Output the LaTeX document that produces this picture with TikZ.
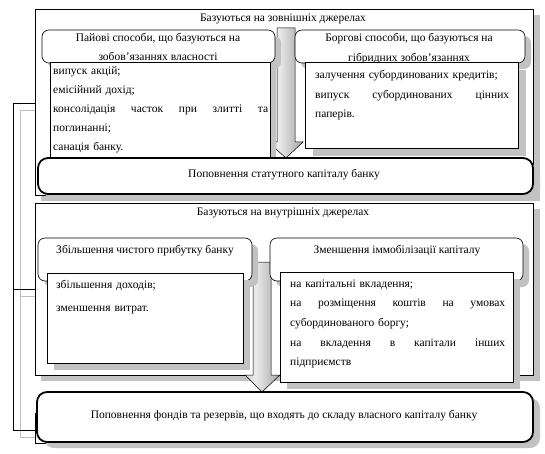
\documentclass[tikz,border=0pt]{standalone}
\usepackage{fontspec}
\setmainfont{Liberation Serif}
\pgfdeclarehorizontalshading{arrowshade}{100bp}{color(0bp)=(black!38); color(40bp)=(black!8); color(100bp)=(black!55)}
\tikzset{
  shadowbox/.style={fill=black!24, draw=none},
  plainbox/.style={fill=white, draw=black, line width=0.6pt},
  roundbox/.style={plainbox, rounded corners=7pt},
  thickbox/.style={fill=white, draw=black, line width=1.8pt, rounded corners=10pt},
  txt/.style={inner sep=0pt, font=\fontsize{11.5}{19}\selectfont},
  blockarrow/.style={shading=arrowshade, draw=black, line width=0.5pt},
  bracketline/.style={draw=black, line width=0.6pt},
  bracketshadow/.style={draw=black!25, line width=0.8pt}
}
\begin{document}
\begin{tikzpicture}[x=1pt,y=-1pt]
\useasboundingbox (0,0) rectangle (545,454);
% left brackets
\draw[bracketshadow] (35,110) -- (20,110) -- (20,437) -- (35,437);
\draw[bracketshadow] (20,296) -- (35,296);
\draw[bracketline] (35,103) -- (13,103) -- (13,430) -- (35,430);
\draw[bracketline] (13,289) -- (35,289);

% ---------- section 1 ----------
\fill[shadowbox] (41,15) rectangle (540,201);
\draw[plainbox] (35,9) rectangle (533,195);
\node[txt] (t1) at (283,19) {Базуються на зовнішніх джерелах};

\shadedraw[blockarrow] (277,28) -- (295,28) -- (295,142) -- (303,142) -- (286,158) -- (268,142) -- (277,142) -- cycle;

\fill[shadowbox, rounded corners=7pt] (48,36) rectangle (281,69);
\draw[roundbox] (42,30) rectangle (275,63);
\node[txt, anchor=base] (p1) at (158,42) {Пайові способи, що базуються на};
\node[txt, anchor=base] (p2) at (158,61) {зобов’язаннях власності};

\fill[shadowbox, rounded corners=7pt] (301,36) rectangle (531,69);
\draw[roundbox] (295,30) rectangle (525,63);
\node[txt, anchor=base] (b1) at (409,42) {Боргові способи, що базуються на};
\node[txt, anchor=base] (b2) at (409,62) {гібридних зобов’язаннях};

\fill[shadowbox] (56,68) rectangle (276,164);
\draw[plainbox] (50,62) rectangle (270,158);
\node[txt, anchor=base west, text width=215pt, align=left] (c1) at (53,75)
  {випуск акцій;\\
   емісійний дохід;\\
   консолідація\hfill часток\hfill при\hfill злитті\hfill та\\
   поглинанні;\\
   санація банку.};

\fill[shadowbox] (313,70) rectangle (526,156);
\draw[plainbox] (305,62) rectangle (518,148);
\node[txt, anchor=base west, text width=194pt, align=left, font=\fontsize{11.5}{19.5}\selectfont] (c2) at (315,79)
  {залучення субординованих кредитів;\\
   випуск\hfill субординованих\hfill цінних\\
   паперів.};

\fill[shadowbox, rounded corners=10pt] (44,164) rectangle (540,200);
\draw[thickbox] (38,158) rectangle (533,194);
\node[txt] (r1) at (284,175) {Поповнення статутного капіталу банку};

% ---------- section 2 ----------
\fill[shadowbox] (41,209) rectangle (540,381);
\draw[plainbox] (35,203) rectangle (533,375);
\node[txt] (t2) at (283,213) {Базуються на внутрішніх джерелах};

\shadedraw[blockarrow] (253,262) -- (271,262) -- (271,375) -- (280,375) -- (262,392) -- (245,375) -- (253,375) -- cycle;

\fill[shadowbox, rounded corners=7pt] (44,244) rectangle (258,287);
\draw[roundbox] (38,238) rectangle (252,281);
\node[txt, anchor=base] (z1) at (145,253) {Збільшення чистого прибутку банку};

\fill[shadowbox, rounded corners=7pt] (276,244) rectangle (529,287);
\draw[roundbox] (270,238) rectangle (523,281);
\node[txt, anchor=base] (z2) at (397,253) {Зменшення іммобілізації капіталу};

\fill[shadowbox] (54,280) rectangle (250,370);
\draw[plainbox] (47,273) rectangle (243,363);
\node[txt, anchor=base west, text width=180pt, align=left, font=\fontsize{11.5}{23}\selectfont] (c3) at (56,288)
  {збільшення доходів;\\
   зменшення витрат.};

\fill[shadowbox] (287,279) rectangle (520,389);
\draw[plainbox] (280,272) rectangle (513,382);
\node[txt, anchor=base west, text width=215pt, align=left, font=\fontsize{11.5}{19.7}\selectfont] (c4) at (290,287)
  {на капітальні вкладення;\\
   на\hfill розміщення\hfill коштів\hfill на\hfill умовах\\
   субординованого боргу;\\
   на\hfill вкладення\hfill в\hfill капітали\hfill інших\\
   підприємств};

% ---------- bottom ----------
\draw[plainbox] (35,413) rectangle (533,443);
\fill[shadowbox, rounded corners=10pt] (44,398) rectangle (540,448);
\draw[thickbox] (37,392) rectangle (533,442);
\node[txt] (r2) at (284,416) {Поповнення фондів та резервів, що входять до складу власного капіталу банку};
\end{tikzpicture}
\end{document}
